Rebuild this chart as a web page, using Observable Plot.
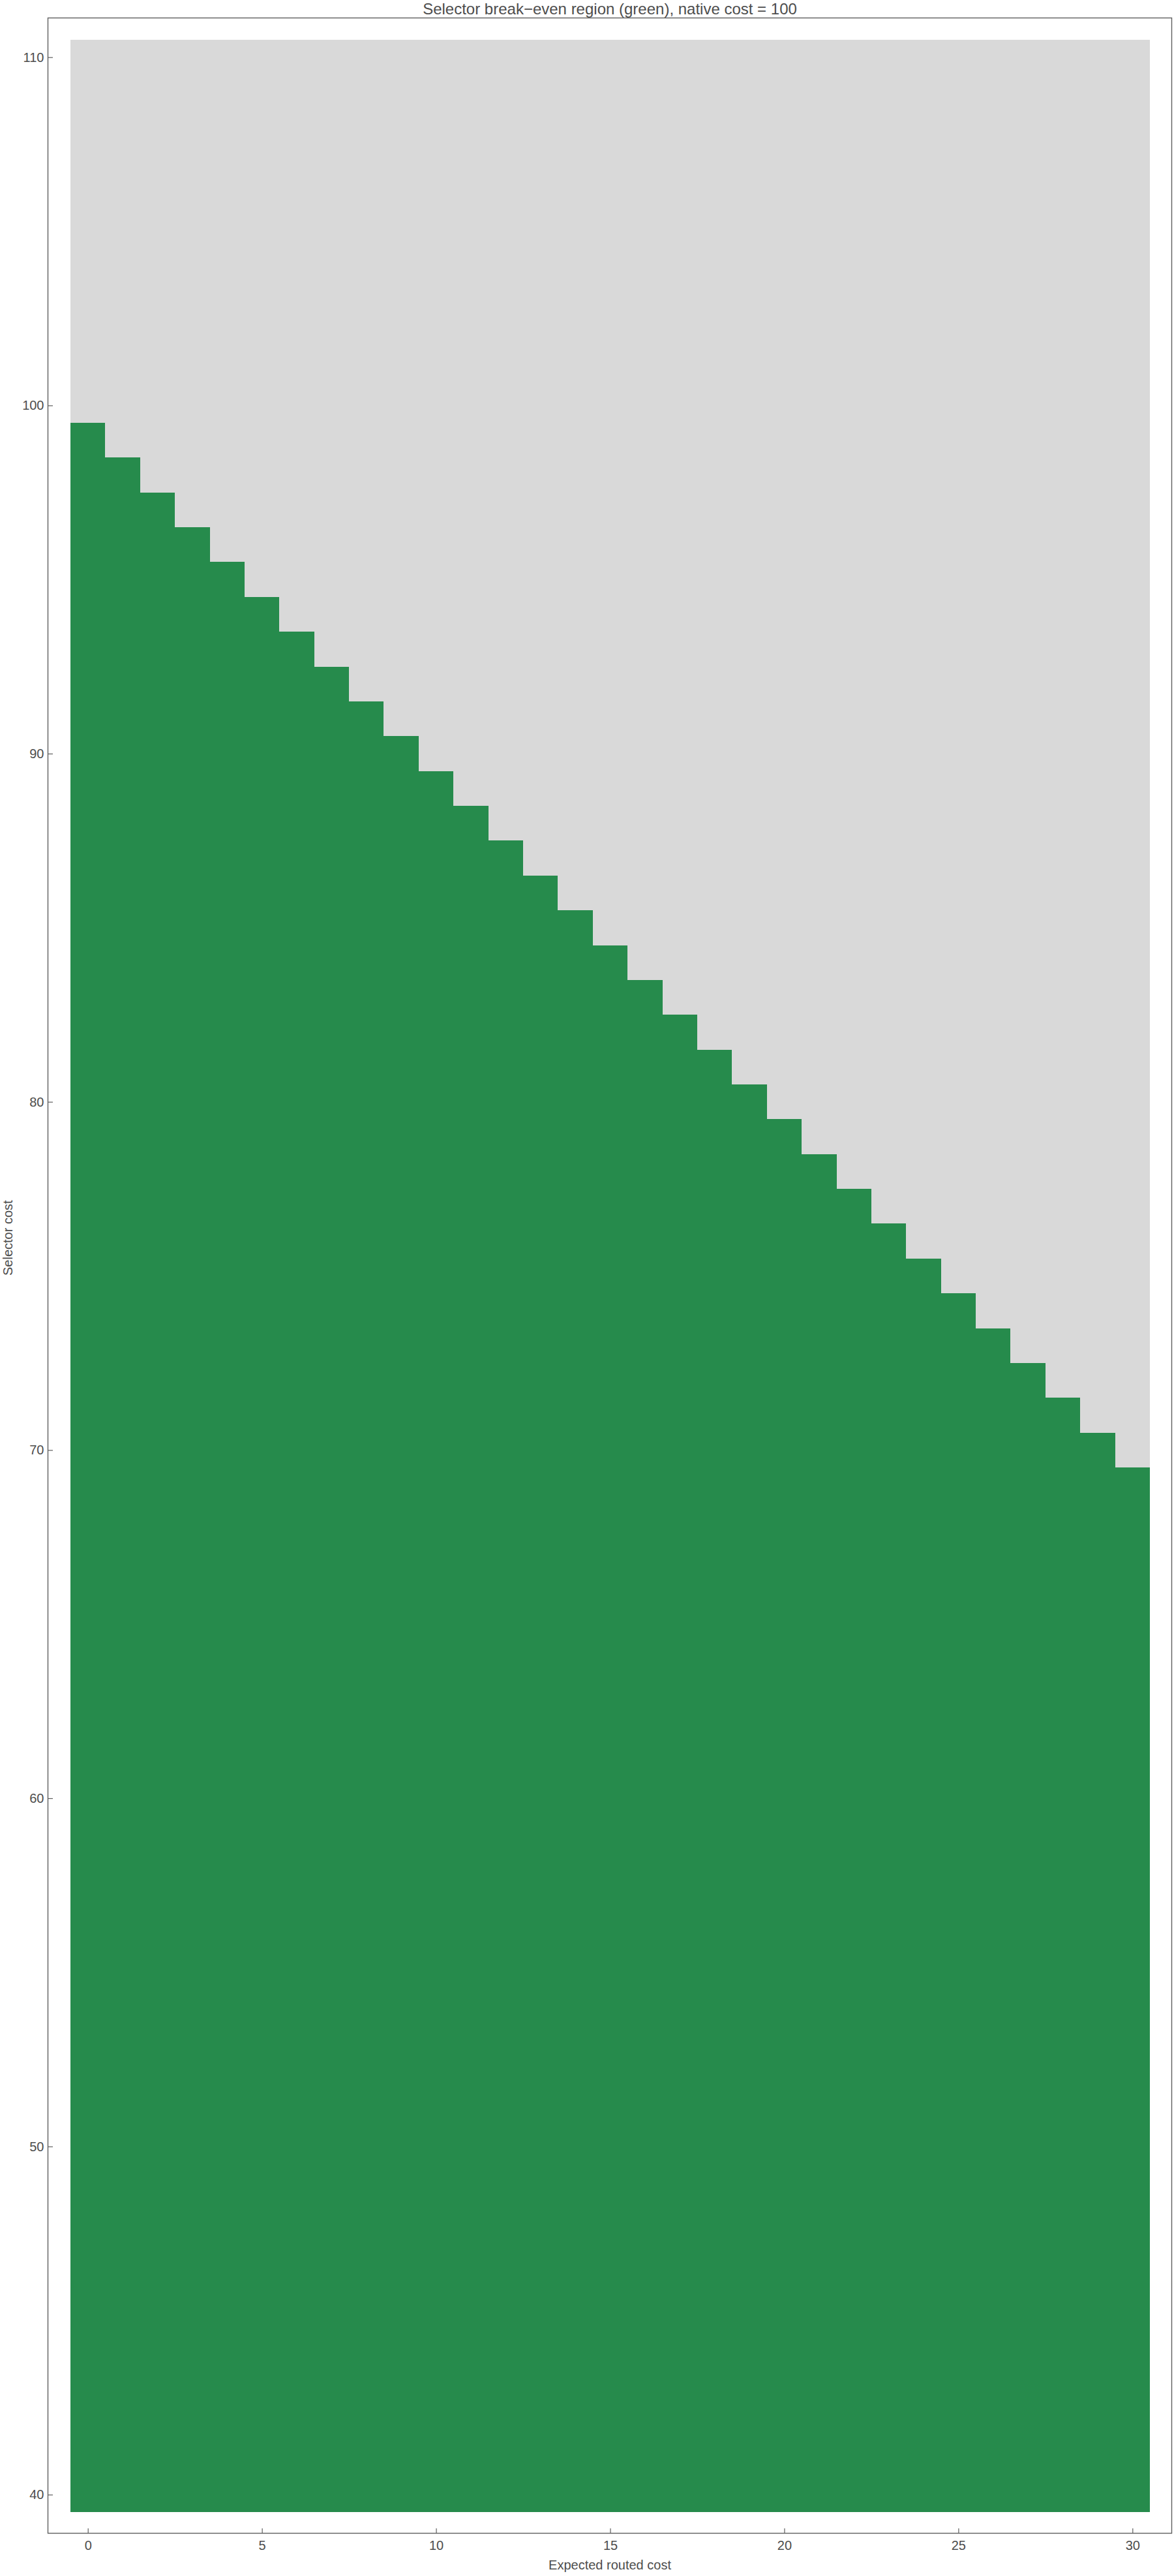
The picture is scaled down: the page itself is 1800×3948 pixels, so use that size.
<!DOCTYPE html>
<html>
<head>
<meta charset="utf-8">
<script src="https://cdn.jsdelivr.net/npm/d3@7"></script>
<script src="https://cdn.jsdelivr.net/npm/@observablehq/plot@0.6"></script>
<style>
  html, body { margin: 0; padding: 0; background: #ffffff; }
  #chart svg { display: block; }
</style>
</head>
<body>
<div id="chart"></div>
<script>
// ---- data ----
const title = "Selector break\u2212even region (green), native cost = 100";
const xLabel = "Expected routed cost";
const yLabel = "Selector cost";
const routedCosts = d3.range(0, 31);          // columns 0..30
const selectorCosts = d3.range(40, 111);      // rows 40..110
// highest selector cost that is still green, for each routed cost column
const greenTop = [99, 98, 97, 96, 95, 94, 93, 92, 91, 90,
                  89, 88, 87, 86, 85, 84, 83, 82, 81, 80,
                  79, 78, 77, 76, 75, 74, 73, 72, 71, 70, 69];
const xTicks = [0, 5, 10, 15, 20, 25, 30];
const yTicks = [40, 50, 60, 70, 80, 90, 100, 110];

const cells = [];
routedCosts.forEach((x, i) => {
  selectorCosts.forEach(y => {
    cells.push({x, y, region: y <= greenTop[i] ? "break-even" : "no"});
  });
});

const W = 1800, H = 3948;
const mL = 73, mR = 4, mT = 27, mB = 66;
const frameW = W - mL - mR, frameH = H - mT - mB;
const ink = "#4d4d4d", lineCol = "#5f5f5f";

const chart = Plot.plot({
  width: W,
  height: H,
  marginLeft: mL,
  marginRight: mR,
  marginTop: mT,
  marginBottom: mB,
  style: {fontFamily: "'Liberation Sans', Arial, Helvetica, sans-serif", color: ink, background: "#ffffff"},
  x: {domain: [-0.5, 30.5], insetLeft: 35, insetRight: 33},
  y: {domain: [39.5, 110.5], insetTop: 34, insetBottom: 32},
  color: {domain: ["break-even", "no"], range: ["#268b4c", "#d9d9d9"]},
  marks: [
    Plot.rect(cells, {
      x1: d => d.x - 0.5, x2: d => d.x + 0.5,
      y1: d => d.y - 0.5, y2: d => d.y + 0.5,
      fill: "region", shapeRendering: "crispEdges"
    }),
    Plot.frame({stroke: lineCol, strokeWidth: 1.4}),
    Plot.tickX(xTicks, {x: d => d, stroke: lineCol, strokeWidth: 1.2, insetTop: frameH - 7}),
    Plot.tickY(yTicks, {y: d => d, stroke: lineCol, strokeWidth: 1.2, insetRight: frameW - 8}),
    Plot.axisX({ticks: xTicks, tickSize: 0, tickPadding: 11, fontSize: 20, label: null, tickFormat: d => String(d)}),
    Plot.axisY({ticks: yTicks, tickSize: 0, tickPadding: 6, fontSize: 20, label: null, tickFormat: d => String(d)}),
    Plot.text([title], {frameAnchor: "top", lineAnchor: "bottom", dy: -6, fontSize: 24, fill: ink}),
    Plot.text([xLabel], {frameAnchor: "bottom", dy: 55, fontSize: 20, fill: ink}),
    Plot.text([yLabel], {frameAnchor: "left", rotate: -90, dx: -61, fontSize: 20, fill: ink})
  ]
});
document.getElementById("chart").appendChild(chart);
</script>
</body>
</html>
